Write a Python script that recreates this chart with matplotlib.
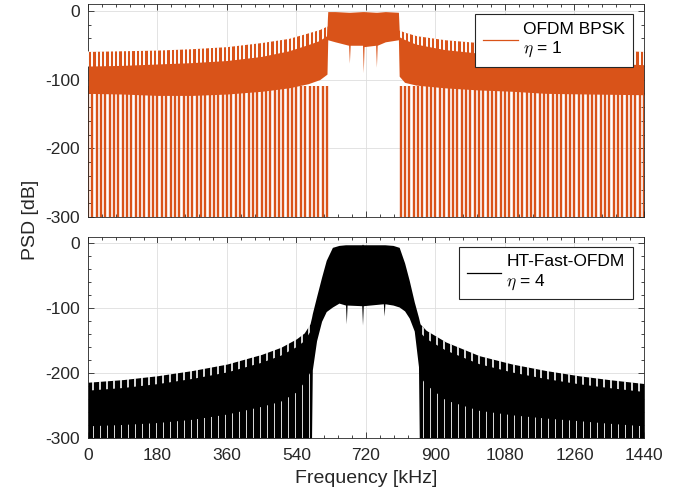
import matplotlib
matplotlib.use('Agg')
import matplotlib.pyplot as plt
from matplotlib.ticker import MultipleLocator

plt.rcParams['font.family'] = ['Liberation Sans', 'DejaVu Sans']
plt.rcParams['mathtext.fontset'] = 'cm'
plt.rcParams['axes.unicode_minus'] = False

ORANGE = '#D95319'
DARK = '#262626'

# ---------- top panel: OFDM BPSK, eta = 1 ----------
top_f = [0, 90, 180, 270, 360, 450, 520, 570, 600, 619, 621, 640, 675, 677, 679, 711,
         713, 715, 745, 747, 749, 770, 804, 806, 820, 850, 925, 1010, 1100, 1186, 1300, 1440]
# tips of the side-lobe spikes
top_peak = [-59, -58, -57, -55, -52, -46, -40, -32, -27, -22, -1, -1, -2, -2, -2, -1,
            -1, -1, -2, -2, -2, -1, -2, -28, -31, -36, -42, -46, -49, -52, -56, -59]
# top of the solid part
top_hi = [-81, -80, -78, -76, -73, -67, -59, -50, -44, -37, -1, -1, -2, -2, -2, -1,
          -1, -1, -2, -2, -2, -1, -2, -38, -42, -49, -57, -62, -67, -71, -76, -79]
# bottom of the solid part
top_lo = [-120, -121, -123, -123, -121, -117, -112, -106, -100, -92, -42, -45, -50, -76, -50, -50,
          -90, -52, -50, -82, -50, -45, -42, -95, -104, -108, -112, -115, -117, -120, -121, -122]
# deep nulls between sub-carriers (down to the -300 dB floor)
top_null_khz = [0, 11.25, 22.5, 33.75, 45, 56.25, 67.5, 78.75, 90, 101.25, 112.5, 123.75,
                135, 146.25, 157.5, 168.75, 180, 191.25, 202.5, 213.75, 225, 236.25, 247.5,
                258.75, 270, 281.25, 292.5, 303.75, 315, 326.25, 337.5, 348.75, 360, 371.25,
                382.5, 393.75, 405, 416.25, 427.5, 438.75, 450, 461.25, 472.5, 483.75, 495,
                506.25, 517.5, 528.75, 540, 551.25, 562.5, 573.75, 585, 596.25, 607.5, 618.75,
                810, 821.25, 832.5, 843.75, 855, 866.25, 877.5, 888.75, 900, 911.25, 922.5,
                933.75, 945, 956.25, 967.5, 978.75, 990, 1001.25, 1012.5, 1023.75, 1035,
                1046.25, 1057.5, 1068.75, 1080, 1091.25, 1102.5, 1113.75, 1125, 1136.25,
                1147.5, 1158.75, 1170, 1181.25, 1192.5, 1203.75, 1215, 1226.25, 1237.5,
                1248.75, 1260, 1271.25, 1282.5, 1293.75, 1305, 1316.25, 1327.5, 1338.75,
                1350, 1361.25, 1372.5, 1383.75, 1395, 1406.25, 1417.5, 1428.75, 1440]

# ---------- bottom panel: HT-Fast-OFDM, eta = 4 ----------
bot_f = [0, 90, 180, 270, 360, 450, 500, 540, 560, 575, 579, 581, 592, 605, 617, 633,
         650, 667, 669, 671, 709, 711, 713, 765, 767, 769, 790, 806, 820, 832, 845, 856,
         858, 860, 876, 927, 1013, 1099, 1186, 1271, 1350, 1440]
bot_peak = [-214, -210, -204, -196, -186, -171, -160, -147, -138, -124, -114, -108, -82, -52, -26, -6,
            -3, -2, -2, -2, -2, -1, -2, -2, -2, -2, -3, -6, -30, -57, -90, -114,
            -119, -124, -134, -152, -173, -186, -196, -204, -210, -216]
bot_valley = [-227, -223, -217, -209, -199, -184, -173, -160, -151, -137, -114, -108, -82, -52, -26, -6,
              -3, -2, -2, -2, -2, -1, -2, -2, -2, -2, -3, -6, -30, -57, -90, -114,
              -119, -137, -147, -165, -186, -199, -209, -217, -223, -229]
bot_lo = [-300, -300, -300, -300, -300, -300, -300, -300, -300, -300, -300, -195, -150, -120, -105, -98,
          -92, -95, -124, -95, -96, -126, -96, -93, -112, -93, -95, -98, -104, -115, -135, -190,
          -300, -300, -300, -300, -300, -300, -300, -300, -300, -300]
bot_notch = [-282, -280, -277, -272, -264, -252, -244, -230, -215, -200, -300, -300, -300, -300, -300, -300,
             -300, -300, -300, -300, -300, -300, -300, -300, -300, -300, -300, -300, -300, -300, -300, -300,
             -300, -205, -218, -242, -258, -265, -270, -274, -278, -282]
# edges between the out-of-band lobes
bot_lobe_khz = [13.5, 31.5, 49.5, 67.5, 85.5, 103.5, 121.5, 139.5, 157.5, 175.5, 193.5, 211.5,
                229.5, 247.5, 265.5, 283.5, 301.5, 319.5, 337.5, 355.5, 373.5, 391.5, 409.5,
                427.5, 445.5, 463.5, 481.5, 499.5, 517.5, 535.5, 553.5, 571.5,
                868.5, 886.5, 904.5, 922.5, 940.5, 958.5, 976.5, 994.5, 1012.5, 1030.5, 1048.5,
                1066.5, 1084.5, 1102.5, 1120.5, 1138.5, 1156.5, 1174.5, 1192.5, 1210.5, 1228.5,
                1246.5, 1264.5, 1282.5, 1300.5, 1318.5, 1336.5, 1354.5, 1372.5, 1390.5, 1408.5,
                1426.5]

x_ticks = [0, 180, 360, 540, 720, 900, 1080, 1260, 1440]
y_ticks = [0, -100, -200, -300]


def style_axes(ax, show_x):
    ax.set_xlim(0, 1440)
    ax.set_ylim(-300, 10)
    ax.set_xticks(x_ticks)
    ax.set_yticks(y_ticks)
    ax.xaxis.set_minor_locator(MultipleLocator(36))
    ax.yaxis.set_minor_locator(MultipleLocator(20))
    ax.tick_params(which='both', direction='in', top=True, right=True,
                   color=DARK, width=0.6, labelsize=12.5, labelcolor=DARK)
    ax.tick_params(which='major', length=4.5)
    ax.tick_params(which='minor', length=2.5)
    ax.tick_params(axis='y', pad=6)
    ax.tick_params(axis='x', pad=7, labelbottom=show_x)
    ax.set_axisbelow(True)
    ax.grid(True, which='major', color='#dedede', lw=0.6)
    for s in ax.spines.values():
        s.set_color(DARK)
        s.set_linewidth(0.6)


def comb(ax, xs, lower, upper, f, color, lw):
    # vertical lines at xs, only visible inside the band lower..upper
    zone = ax.fill_between(f, lower, upper, facecolor='none', edgecolor='none')
    lines = ax.vlines(xs, -300, 10, colors=color, lw=lw, zorder=3)
    lines.set_clip_path(zone.get_paths()[0], ax.transData)


fig = plt.figure(figsize=(6.88, 5.04), dpi=100)
ax1 = fig.add_axes([0.1279, 0.5694, 0.8081, 0.4226])
ax2 = fig.add_axes([0.1279, 0.1310, 0.8081, 0.3988])

# top
ax1.vlines(top_null_khz, -300, -110, colors=ORANGE, lw=1.7, zorder=1.5)
ax1.fill_between(top_f, top_lo, top_peak, color=ORANGE, lw=0, zorder=2)
comb(ax1, top_null_khz, top_hi, top_peak, top_f, 'white', 1.4)
ax1.plot([], [], color=ORANGE, lw=0.9, label='OFDM BPSK\n$\\eta$ = 1')
style_axes(ax1, False)

# bottom
ax2.fill_between(bot_f, bot_lo, bot_peak, color='black', lw=0, zorder=2)
comb(ax2, bot_lobe_khz, bot_valley, bot_peak, bot_f, 'white', 1.2)
comb(ax2, bot_lobe_khz, [-300] * len(bot_f), bot_notch, bot_f, 'white', 0.6)
ax2.plot([], [], color='black', lw=0.9, label='HT-Fast-OFDM\n$\\eta$ = 4')
style_axes(ax2, True)
ax2.set_xlabel('Frequency [kHz]', fontsize=14, color=DARK, labelpad=5)

for ax in (ax1, ax2):
    leg = ax.legend(loc='upper right', fontsize=12.5, fancybox=False, framealpha=1,
                    edgecolor=DARK, handlelength=2.0, handletextpad=0.3,
                    borderaxespad=0.5, borderpad=0.45, bbox_to_anchor=(0.995, 0.995))
    leg.get_frame().set_linewidth(0.8)
    leg.set_zorder(5)
    for t in leg.get_texts():
        t.set_multialignment('left')

fig.text(0.045, 0.5635, 'PSD [dB]', rotation=90, fontsize=14, color=DARK,
         ha='center', va='center')

fig.savefig('out.png', dpi=100)
